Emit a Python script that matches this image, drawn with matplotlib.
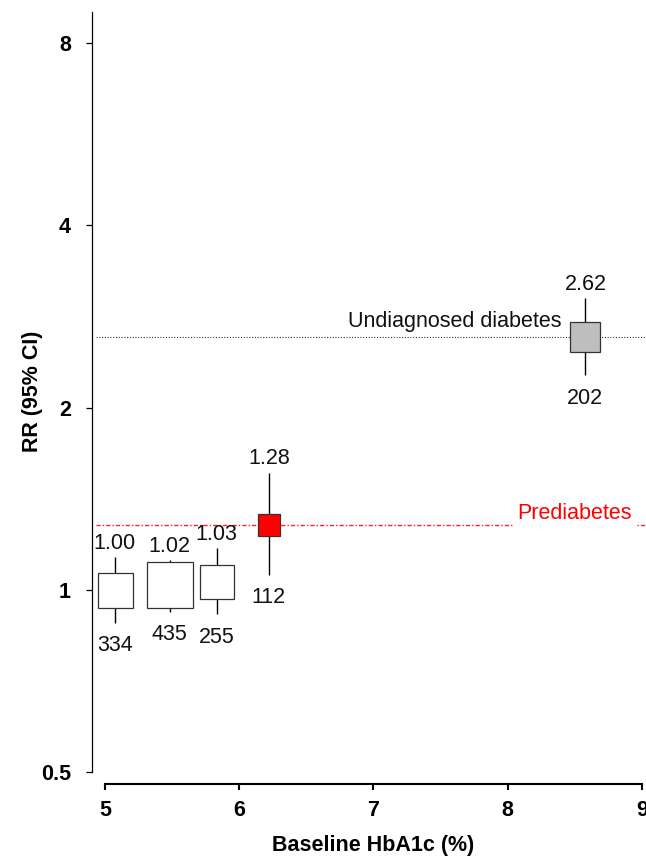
import numpy as np
import matplotlib
matplotlib.use("Agg")
import matplotlib.pyplot as plt

plt.rcParams['font.family'] = ['Liberation Sans', 'DejaVu Sans']

### DATA
hba1c = [5.07, 5.48, 5.83, 6.22, 8.58]
rr = [1.00, 1.02, 1.03, 1.28, 2.62]
ci_low = [0.882, 0.921, 0.912, 1.059, 2.262]
ci_high = [1.134, 1.121, 1.172, 1.563, 3.037]
n_cases = [334, 435, 255, 112, 202]

yticks = [0.5, 1, 2, 4, 8]
ytick_labels = ["0.5", "1", "2", "4", "8"]
xticks = [5, 6, 7, 8, 9]

# style
box_colors = ["white", "white", "white", "#ff0000", "#bebebe"]
box_side_px = [36, 47.5, 35, 23.5, 31]
fs = 15.5


def main():
    fig = plt.figure(figsize=(6.46, 8.57), dpi=100)
    ax = fig.add_axes([92 / 646, 72.7 / 857, 554 / 646, 772 / 857])

    ax.set_yscale("log", base=2)
    ax.set_xlim(4.901, 9.032)
    ax.set_ylim(0.4775, 9.0)

    # reference lines
    ax.axhline(rr[4], xmin=0.008, color="#333333", lw=0.8, ls=(0, (1, 1.5)), zorder=1)
    ax.axhline(rr[3], xmin=0.008, color="#ff2020", lw=1.0, ls=(0, (3, 1.5, 1, 1.5)), zorder=1)
    ax.text(8.404, rr[4], "Undiagnosed diabetes", ha="right", va="baseline",
            fontsize=fs, color="#111111",
            transform=ax.transData + matplotlib.transforms.ScaledTranslation(0, 9.3 / 100, fig.dpi_scale_trans))
    ax.text(8.497, rr[3], "Prediabetes", ha="center", va="baseline",
            fontsize=fs, color="#ff0000", zorder=2,
            bbox=dict(boxstyle="square,pad=0.2", fc="white", ec="none"),
            transform=ax.transData + matplotlib.transforms.ScaledTranslation(0, 6.3 / 100, fig.dpi_scale_trans))

    # whiskers and boxes
    ax.vlines(hba1c, ci_low, ci_high, color="black", lw=1, zorder=3)
    for i in range(len(hba1c)):
        ms = (box_side_px[i] - 1) * 72 / 100
        ax.plot(hba1c[i], rr[i], marker="s", ms=ms, mfc=box_colors[i],
                mec="#333333", mew=0.9, zorder=4)
        ax.annotate("%.2f" % rr[i], (hba1c[i], ci_high[i]), xytext=(0, 6),
                    textcoords="offset points", ha="center", va="baseline",
                    fontsize=fs, color="#111111")
        ax.annotate(str(n_cases[i]), (hba1c[i], ci_low[i]), xytext=(0, -9),
                    textcoords="offset points", ha="center", va="top",
                    fontsize=fs, color="#111111")

    # axes styling
    ax.spines["top"].set_visible(False)
    ax.spines["right"].set_visible(False)
    ax.spines["left"].set_bounds(0.5, 9.0)
    ax.spines["left"].set_linewidth(0.9)
    ax.spines["bottom"].set_bounds(5, 9)
    ax.spines["bottom"].set_linewidth(1.5)

    ax.set_yticks(yticks)
    ax.yaxis.set_minor_locator(matplotlib.ticker.NullLocator())
    ax.set_yticklabels(ytick_labels, fontweight="bold", fontsize=15.5)
    ax.set_xticks(xticks)
    ax.set_xticklabels([str(x) for x in xticks], fontweight="bold", fontsize=15.5)
    ax.tick_params(axis="y", length=4.3, width=0.9, pad=11)
    ax.tick_params(axis="x", length=4.3, width=1.5, pad=7)

    ax.set_xlabel("Baseline HbA1c (%)", fontsize=15.5, fontweight="bold")
    ax.xaxis.set_label_coords(0.507, -0.066)
    ax.set_ylabel("RR (95% CI)", fontsize=15.5, fontweight="bold")
    ax.yaxis.set_label_coords(-0.089, 0.509)

    fig.savefig("out.png", dpi=100)


if __name__ == "__main__":
    main()
